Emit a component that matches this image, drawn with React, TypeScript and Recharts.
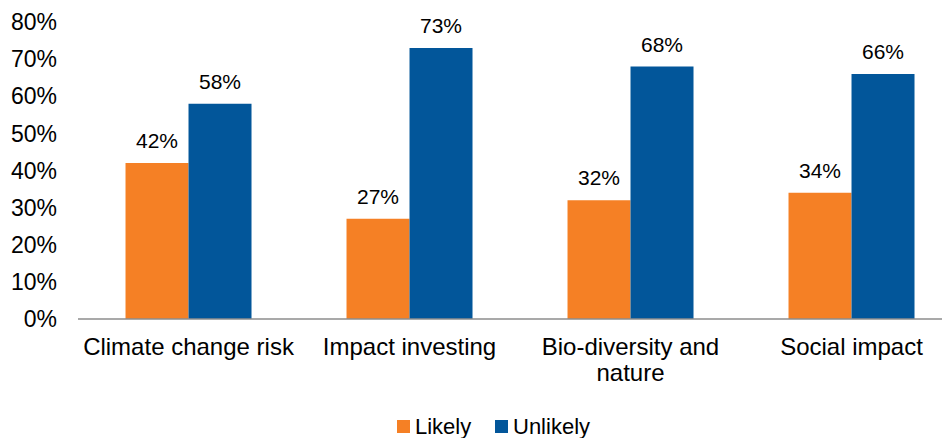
import React from 'react';
import { BarChart, Bar, XAxis, YAxis, Legend, LabelList } from 'recharts';

const categories = ['Climate change risk', 'Impact investing', 'Bio-diversity and nature', 'Social impact'];
const likely = [42, 27, 32, 34];
const unlikely = [58, 73, 68, 66];
const yTicks = [0, 10, 20, 30, 40, 50, 60, 70, 80];

const ORANGE = '#F58025';
const BLUE = '#02569A';
const FONT = '"Liberation Sans", Arial, sans-serif';
const CAT_FONT_SIZE = 24;
const CAT_LINE_HEIGHT = 26;
const CAT_MAX_WIDTH = 221;

const data = categories.map((name, i) => ({ name, likely: likely[i], unlikely: unlikely[i] }));

const pct = (v: number) => `${v}%`;

let measureCtx: CanvasRenderingContext2D | null = null;
const textWidth = (s: string) => {
  if (!measureCtx) {
    measureCtx = document.createElement('canvas').getContext('2d');
  }
  if (!measureCtx) return s.length * CAT_FONT_SIZE * 0.5;
  measureCtx.font = `${CAT_FONT_SIZE}px ${FONT}`;
  return measureCtx.measureText(s).width;
};

// greedy word wrap for category labels
const wrap = (label: string) => {
  const words = label.split(' ');
  const lines: string[] = [];
  let cur = '';
  for (const w of words) {
    const next = cur ? `${cur} ${w}` : w;
    if (cur && textWidth(next) > CAT_MAX_WIDTH) {
      lines.push(cur);
      cur = w;
    } else {
      cur = next;
    }
  }
  if (cur) lines.push(cur);
  return lines;
};

const CategoryTick = (props: any) => {
  const { x, y, payload } = props;
  const lines = wrap(String(payload.value));
  return (
    <text
      x={x}
      y={y}
      textAnchor="middle"
      fontSize={CAT_FONT_SIZE}
      fontFamily={FONT}
      fill="#000"
    >
      {lines.map((line, i) => (
        <tspan key={i} x={x} dy={i === 0 ? '0.71em' : CAT_LINE_HEIGHT}>
          {line}
        </tspan>
      ))}
    </text>
  );
};

const LegendContent = () => (
  <div style={{ position: 'relative', width: 220, height: 30, fontFamily: FONT, fontSize: 22, color: '#000' }}>
    <span style={{ position: 'absolute', left: 0, top: 7, width: 13, height: 13, background: ORANGE }} />
    <span style={{ position: 'absolute', left: 18, top: 4, lineHeight: '20px', whiteSpace: 'nowrap' }}>Likely</span>
    <span style={{ position: 'absolute', left: 98, top: 7, width: 13, height: 13, background: BLUE }} />
    <span style={{ position: 'absolute', left: 116, top: 4, lineHeight: '20px', whiteSpace: 'nowrap' }}>Unlikely</span>
  </div>
);

export default function App() {
  return (
    <div style={{ width: 942, height: 430, overflow: 'hidden' }}>
      <BarChart
        width={960}
        height={430}
        data={data}
        margin={{ top: 14, right: 6, bottom: 0, left: 0 }}
        barCategoryGap="21.5%"
        barGap={0}
      >
        <YAxis
          width={70}
          domain={[0, 80]}
          ticks={yTicks}
          tickFormatter={pct}
          axisLine={false}
          tickLine={false}
          tickSize={0}
          tickMargin={21}
          tick={{ fontSize: 23, fontFamily: FONT, fill: '#000' }}
          interval={0}
        />
        <XAxis
          dataKey="name"
          height={89}
          axisLine={{ stroke: '#8C8C8C', strokeWidth: 1.5 }}
          tickLine={false}
          tickSize={0}
          tickMargin={19}
          tick={<CategoryTick />}
          interval={0}
        />
        <Legend
          verticalAlign="bottom"
          content={<LegendContent />}
          wrapperStyle={{ left: 389, top: 405, width: 220, height: 30 }}
        />
        <Bar dataKey="likely" name="Likely" fill={ORANGE} isAnimationActive={false}>
          <LabelList dataKey="likely" position="top" offset={15} formatter={pct} fontSize={21} fontFamily={FONT} fill="#000" />
        </Bar>
        <Bar dataKey="unlikely" name="Unlikely" fill={BLUE} isAnimationActive={false}>
          <LabelList dataKey="unlikely" position="top" offset={15} formatter={pct} fontSize={21} fontFamily={FONT} fill="#000" />
        </Bar>
      </BarChart>
    </div>
  );
}
